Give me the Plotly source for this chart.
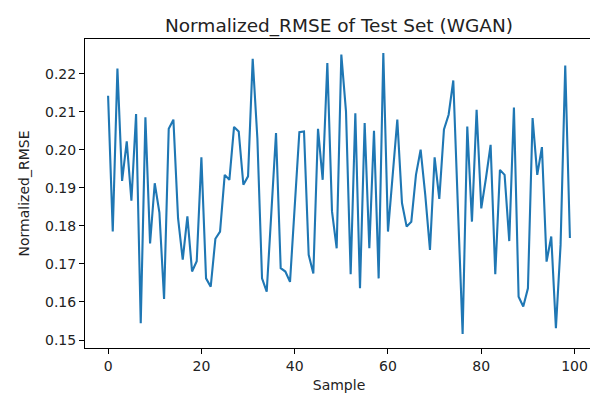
import plotly.graph_objects as go

sample = list(range(100))
nrmse = [
    0.2142, 0.1785, 0.2213, 0.1918, 0.2022, 0.1866, 0.2094, 0.1544, 0.2085, 0.1754,
    0.1912, 0.1835, 0.1608, 0.2055, 0.2079, 0.1820, 0.1711, 0.1825, 0.1680, 0.1707,
    0.1980, 0.1662, 0.1640, 0.1766, 0.1785, 0.1934, 0.1921, 0.2060, 0.2048, 0.1908,
    0.1930, 0.2239, 0.2030, 0.1662, 0.1627, 0.1838, 0.2044, 0.1689, 0.1680, 0.1653,
    0.1850, 0.2046, 0.2048, 0.1724, 0.1675, 0.2055, 0.1921, 0.2228, 0.1838, 0.1741,
    0.2250, 0.2100, 0.1673, 0.2096, 0.1636, 0.2070, 0.1741, 0.2050, 0.1662, 0.2254,
    0.1785, 0.1925, 0.2079, 0.1860, 0.1798, 0.1811, 0.1934, 0.2000, 0.1880, 0.1737,
    0.1980, 0.1871, 0.2053, 0.2092, 0.2182, 0.1846, 0.1516, 0.2061, 0.1811, 0.2105,
    0.1846, 0.1925, 0.2013, 0.1673, 0.1947, 0.1934, 0.1760, 0.2111, 0.1614, 0.1588,
    0.1636, 0.2083, 0.1934, 0.2007, 0.1706, 0.1772, 0.1531, 0.1750, 0.2221, 0.1768,
]
x_ticks = [0, 20, 40, 60, 80, 100]
y_ticks = [0.15, 0.16, 0.17, 0.18, 0.19, 0.20, 0.21, 0.22]

fig = go.Figure()
fig.add_trace(go.Scatter(x=sample, y=nrmse, mode="lines",
                         line=dict(color="#1f77b4", width=2.1)))

xmin, xmax = min(sample), max(sample)
ymin, ymax = min(nrmse), max(nrmse)
xpad = (xmax - xmin) * 0.05
ypad = (ymax - ymin) * 0.05

axis_common = dict(showgrid=False, zeroline=False, showline=True, linecolor="black",
                   linewidth=1, mirror=True, ticks="outside", ticklen=5, tickwidth=1,
                   tickcolor="black", automargin=False,
                   tickfont=dict(size=14, color="#222222"))

fig.update_layout(
    width=598, height=393,
    margin=dict(l=77, r=13, t=31, b=53),
    paper_bgcolor="white", plot_bgcolor="white",
    font=dict(family="DejaVu Sans", color="#222222"),
    showlegend=False,
    title=dict(text="Normalized_RMSE of Test Set (WGAN)", x=0.5, xanchor="center",
               xref="paper", y=1 - 18 / 393, yref="container", yanchor="middle",
               font=dict(size=18.5, color="#222222")),
    xaxis=dict(range=[xmin - xpad, xmax + xpad], tickvals=x_ticks,
               title=dict(text="Sample", font=dict(size=14), standoff=7), **axis_common),
    yaxis=dict(range=[ymin - ypad, ymax + ypad], tickvals=y_ticks, tickformat=".2f",
               title=dict(text="Normalized_RMSE", font=dict(size=14), standoff=12), **axis_common),
)

fig.write_html("out.html")
